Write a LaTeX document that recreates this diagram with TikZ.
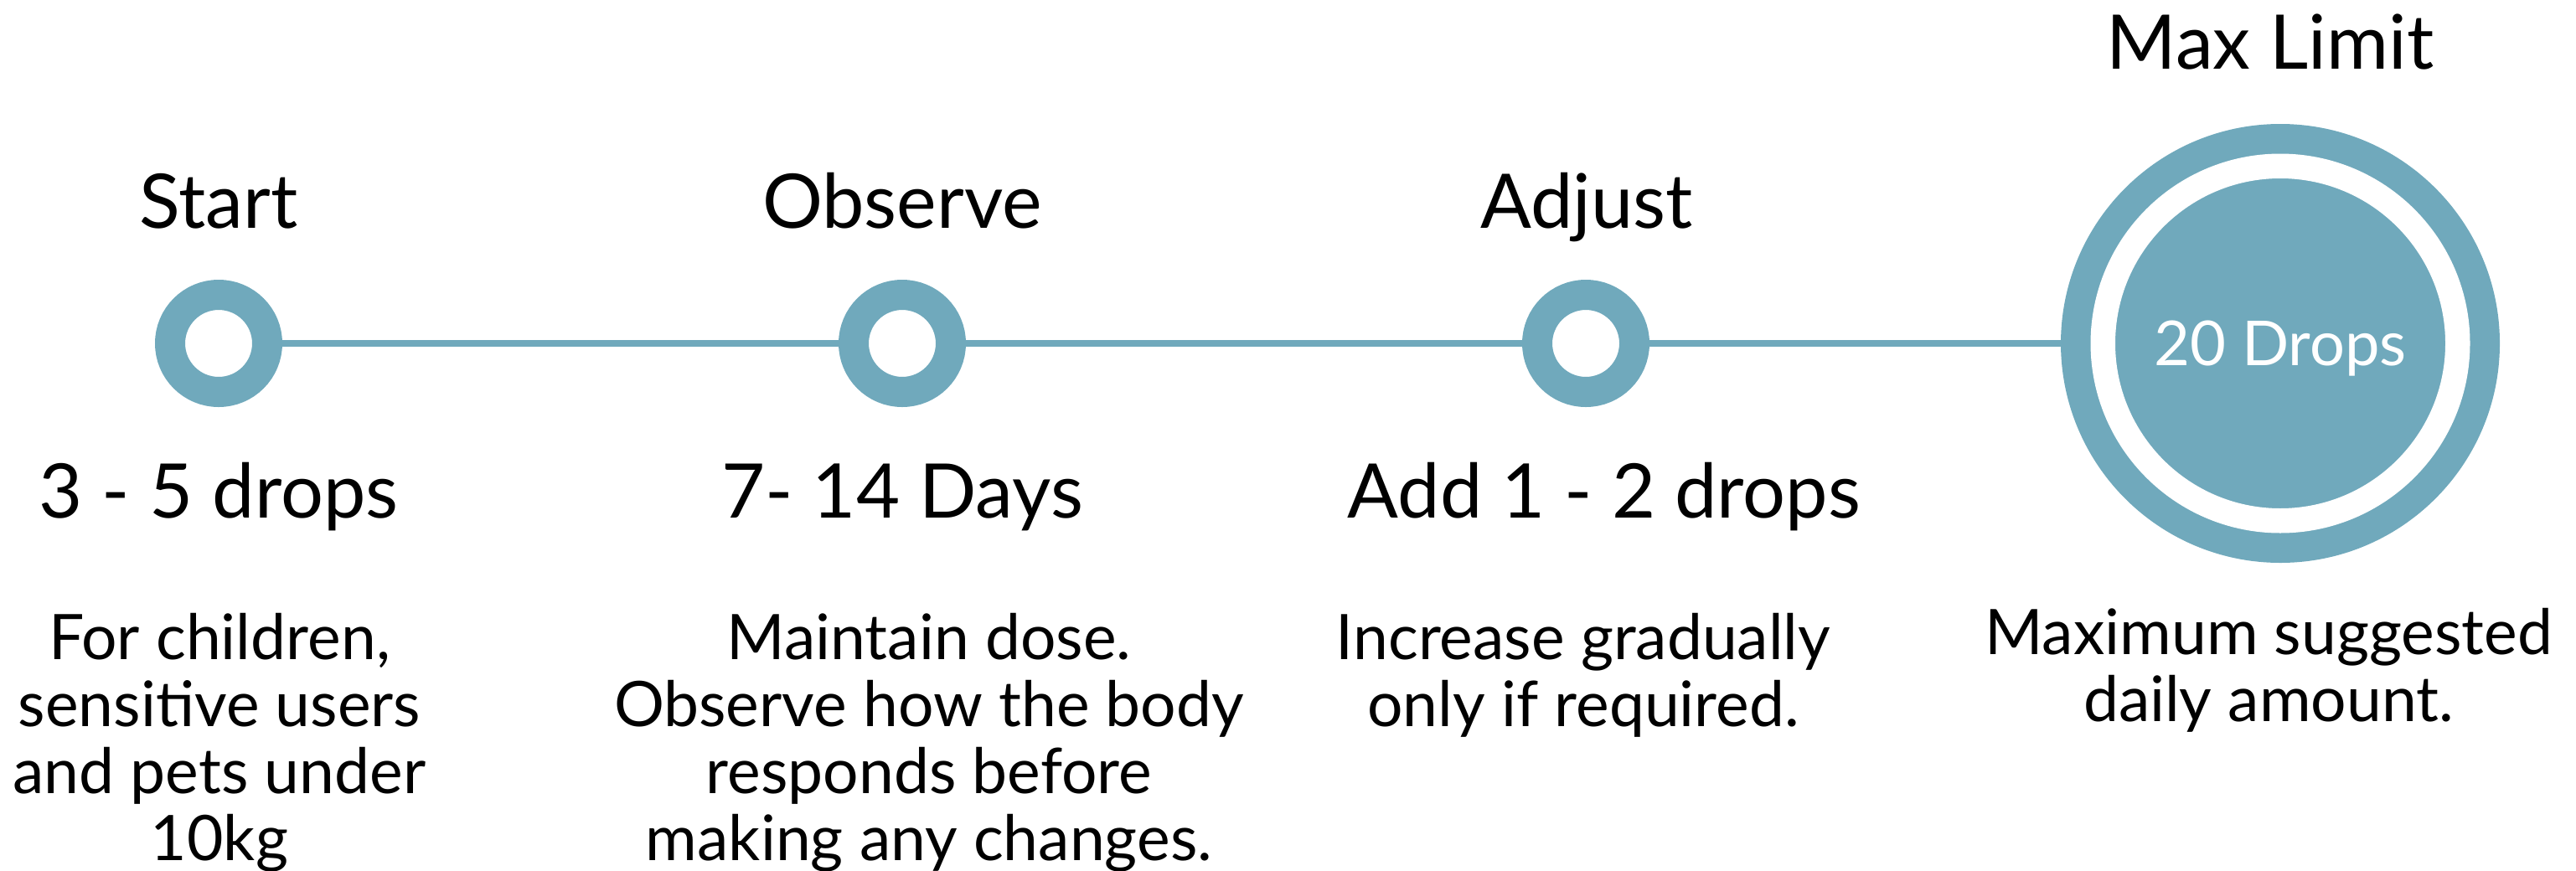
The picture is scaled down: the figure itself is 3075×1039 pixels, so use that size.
\documentclass[tikz,border=0pt]{standalone}
\usepackage{fontspec}
\setmainfont{Lato}
\definecolor{dropblue}{RGB}{112,169,188}

\begin{document}
\begin{tikzpicture}[x=1pt,y=-1pt,node distance=816pt,
	dot/.style={circle, draw=dropblue, fill=white, line width=36pt, minimum size=116pt, inner sep=0pt},
	title/.style={anchor=base, font=\fontsize{90}{108}\selectfont},
	dose/.style={anchor=base, font=\fontsize{90}{108}\selectfont},
	note/.style={anchor=base, align=center, font=\fontsize{75}{80}\selectfont}]
				\useasboundingbox (0,0) rectangle (3075,1039);

				\node[dot]           (Start)   at (261,410) {};
				\node[dot]           (Observe) [right of=Start]   {};
				\node[dot]           (Adjust)  [right of=Observe] {};
				\node[circle, fill=dropblue, minimum size=524pt, inner sep=0pt] (Max) at (2722,410) {};
				\node[circle, fill=dropblue, draw=white, line width=29.5pt, minimum size=423.5pt, inner sep=0pt] (MaxIn) at (Max) {};
				\node[anchor=base, text=white, font=\fontsize{74}{80}\selectfont] (MaxTxt) at (2722,436) {20 Drops};

				\draw[dropblue, line width=8pt] (Start) -- (Observe) -- (Adjust) -- (Max);

				% step names
				\node[title] (StartT)   at (261,272)  {Start};
				\node[title] (ObserveT) at (1077,272) {Observe};
				\node[title] (AdjustT)  at (1894,272) {Adjust};
				\node[title] (MaxT)     at (2710,82)  {Max Limit};

				% amounts
				\node[dose] (StartD)   at (261,618)  {3 - 5 drops};
				\node[dose] (ObserveD) at (1077,618) {7- 14 Days};
				\node[dose] (AdjustD)  at (1915,618) {Add 1 - 2 drops};

				% notes (base = last line)
				\node[note] (StartN)   at (262,1027)  {For children,\\sensitive users\\and pets under\\10kg};
				\node[note] (ObserveN) at (1109,1027) {Maintain dose.\\Observe how the body\\responds before\\making any changes.};
				\node[note] (AdjustN)  at (1890,867)  {Increase gradually\\only if required.};
				\node[note] (MaxN)     at (2708,861)  {Maximum suggested\\daily amount.};
			\end{tikzpicture}
\end{document}
